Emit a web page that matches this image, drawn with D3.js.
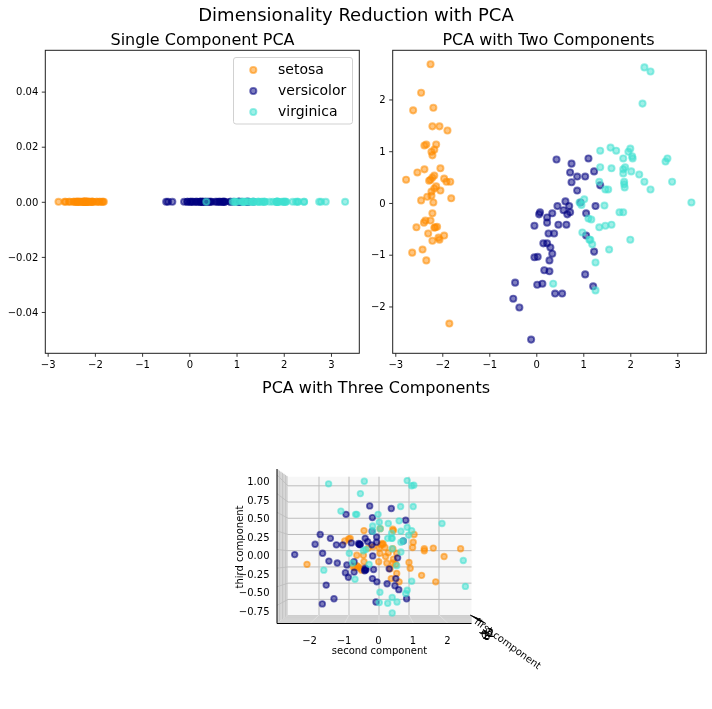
<!DOCTYPE html>
<html><head><meta charset="utf-8">
<script src="https://cdn.jsdelivr.net/npm/d3@7"></script>
<style>html,body{margin:0;padding:0;background:#fff}svg{display:block;filter:blur(0.35px)}text{font-family:"DejaVu Sans",sans-serif;fill:#000}</style>
</head><body><div id="chart"></div>
<script>
// ---------- data ----------
const classNames = ["setosa","versicolor","virginica"];
const classColors = ["darkorange","navy","turquoise"];

const setosaPC1 = [-2.25,-2.45,-2.62,-2.19,-2.21,-2.06,-1.89,-2.38,-2.34,-2.13,-2.17,-2.23,-2.21,-2.38,-2.53,-2.77,-2.04,-2.17,-2.21,-2.25,-2.28,-1.96,-1.91,-1.83,-2.13,-2.17,-2.23,-2.04,-2.23,-2.32,-2.45,-2.19,-1.81,-2.21,-2.25,-2.36,-2.39,-2.55,-2.15,-2.11,-2.17,-2.30,-1.96,-2.08,-2.06,-2.21,-2.42,-2.64,-2.34,-1.85];
const setosaPC2 = [2.68,2.13,1.79,1.84,1.48,1.48,1.40,1.11,1.13,1.13,1.03,0.99,0.92,0.65,0.59,0.45,0.67,0.53,0.49,0.45,0.43,0.47,0.41,0.41,0.32,0.28,0.22,0.24,0.14,0.12,0.05,0.01,0.09,-0.20,-0.34,-0.34,-0.38,-0.47,-0.47,-0.46,-0.48,-0.59,-0.63,-0.67,-0.71,-0.73,-0.90,-0.96,-1.11,-2.33];
const versicolorPC1 = [0.08,0.06,-0.04,-0.04,0.03,-0.45,0.02,-0.49,-0.36,-0.11,0.43,0.75,1.11,0.72,0.87,1.04,1.23,0.75,1.36,0.87,0.94,0.62,0.45,0.70,0.58,0.72,0.66,0.34,0.23,0.23,1.06,1.26,0.47,0.64,0.26,0.38,1.06,0.15,0.23,0.30,0.34,1.23,0.28,0.17,0.28,1.04,0.13,1.21,0.40,0.55];
const versicolorPC2 = [-0.18,-0.22,-0.44,-1.05,-1.04,-1.54,-1.58,-1.85,-2.02,-2.64,0.84,0.76,0.86,0.59,0.51,0.51,0.61,0.40,0.34,0.24,0.01,0.03,-0.06,-0.06,-0.14,-0.18,-0.22,-0.20,-0.28,-0.38,-0.20,-0.06,-0.42,-0.42,-0.59,-0.59,-0.63,-0.78,-0.78,-0.86,-0.98,-0.94,-1.11,-1.30,-1.32,-1.38,-1.56,-1.61,-1.75,-1.75];
const virginicaPC1 = [2.30,2.43,2.26,1.36,1.58,1.70,1.96,2.00,1.85,2.04,2.05,2.79,2.75,1.36,1.60,1.89,1.85,1.85,2.02,2.19,2.30,2.89,1.34,1.87,1.87,1.88,1.47,1.53,2.43,3.30,1.02,0.92,0.96,1.45,1.77,1.85,1.11,1.17,1.34,1.47,1.60,0.98,1.13,1.15,1.19,2.00,1.55,1.26,0.36,1.26];
const virginicaPC2 = [2.62,2.54,1.92,1.01,1.07,1.01,0.99,1.05,0.86,0.90,0.86,0.86,0.80,0.69,0.67,0.69,0.65,0.57,0.61,0.55,0.41,0.41,0.41,0.41,0.36,0.30,0.26,0.26,0.26,0.01,0.07,0.01,-0.04,-0.05,-0.18,-0.18,-0.30,-0.32,-0.47,-0.44,-0.42,-0.57,-0.71,-0.71,-0.80,-0.71,-0.90,-1.15,-1.56,-1.69];

// 3D panel: positions read against the back wall grid
const setosa3dSecond = [-0.50,0.04,0.46,0.48,1.17,-0.96,-1.01,-1.14,1.14,1.12,0.11,0.07,0.14,0.20,0.01,1.81,1.51,1.51,2.72,0.46,2.17,0.22,-0.52,-0.74,0.48,-0.50,-0.01,0.26,0.46,1.00,-2.40,-0.74,-0.69,-0.63,0.56,1.04,0.37,1.42,0.41,1.89,0.67,0.31,0.59,-0.19,-0.36,-0.80,-0.58,0.59,-0.86,0.03];
const setosa3dThird = [0.31,0.34,0.33,0.31,0.25,0.19,0.18,0.15,0.13,0.05,0.11,0.09,0.10,0.05,0.04,0.04,0.03,0.00,0.03,0.03,-0.09,-0.09,-0.07,-0.07,-0.13,-0.17,-0.17,-0.19,-0.19,-0.18,-0.21,-0.23,-0.25,-0.27,-0.21,-0.27,-0.28,-0.38,-0.43,-0.48,-0.48,-0.03,-0.04,0.06,0.04,-0.26,-0.30,-0.35,-0.25,-0.04];
const versicolor3dSecond = [-0.31,0.41,-1.10,-0.22,0.89,-0.23,-1.96,-1.62,-0.46,-0.08,0.81,-2.13,-1.42,-1.21,-0.92,-0.66,-0.63,-0.68,-0.63,-0.38,-0.08,-0.24,-1.88,-2.81,-0.21,0.62,-1.67,-1.39,-1.07,-0.83,-0.46,-0.46,-0.43,-0.48,-0.18,0.34,-1.12,-1.02,-0.83,-0.22,-0.07,0.27,0.56,0.53,0.66,-1.76,-1.50,-1.89,0.92,-0.10];
const versicolor3dThird = [0.69,0.65,0.56,0.51,0.47,0.30,0.25,0.19,0.19,0.21,0.15,0.10,0.09,0.09,0.12,0.10,0.09,0.11,0.10,0.14,0.13,0.09,-0.04,-0.06,-0.08,-0.11,-0.16,-0.19,-0.22,-0.17,-0.30,-0.27,-0.29,-0.31,-0.29,-0.28,-0.34,-0.41,-0.33,-0.43,-0.48,-0.51,-0.43,-0.54,-0.60,-0.53,-0.74,-0.82,-0.74,-0.79];
const virginica3dSecond = [-1.68,-0.49,0.94,1.09,1.16,-0.62,0.72,1.14,-1.27,-0.78,-0.74,-0.03,0.67,2.10,0.01,0.31,-0.21,0.94,1.09,0.04,0.73,-0.21,0.42,0.99,0.42,0.29,0.44,0.73,0.81,-0.44,-0.52,0.44,0.73,-0.99,2.81,-0.88,-0.33,0.59,-1.84,-0.80,1.09,2.88,0.94,0.89,0.03,0.44,0.01,0.29,0.60,0.44];
const virginica3dThird = [1.03,1.07,1.08,1.00,1.01,0.88,0.68,0.68,0.61,0.56,0.56,0.56,0.46,0.42,0.44,0.42,0.38,0.36,0.31,0.34,0.30,0.30,0.27,0.24,0.19,0.19,0.19,0.13,0.15,0.02,0.00,0.03,-0.02,-0.04,-0.15,-0.19,-0.21,-0.23,-0.30,-0.44,-0.47,-0.55,-0.61,-0.66,-0.64,-0.72,-0.80,-0.81,-0.79,-0.96];

const ticksX = [-3,-2,-1,0,1,2,3];
const ticksY1 = [-0.04,-0.02,0,0.02,0.04];
const ticksY2 = [-2,-1,0,1,2];
const ticks3dSecond = [-2,-1,0,1,2];
const ticks3dThird = [-0.75,-0.5,-0.25,0,0.25,0.5,0.75,1];
const ticks3dFirst = [-3,-2,-1,0,1,2,3];

const pc1 = [setosaPC1,versicolorPC1,virginicaPC1];
const pc2 = [setosaPC2,versicolorPC2,virginicaPC2];
const second3d = [setosa3dSecond,versicolor3dSecond,virginica3dSecond];
const third3d = [setosa3dThird,versicolor3dThird,virginica3dThird];

// ---------- layout ----------
const svg = d3.select("#chart").append("svg").attr("width",712).attr("height",709);
const fmtMinus = s => String(s).replace("-","\u2212");
const AX = "#1f1f1f";
const FILL_A = 0.5, STROKE_A = 0.56;

svg.append("text").attr("x",356).attr("y",21).attr("text-anchor","middle").attr("font-size",18).text("Dimensionality Reduction with PCA");
svg.append("text").attr("x",202.5).attr("y",45).attr("text-anchor","middle").attr("font-size",16).text("Single Component PCA");
svg.append("text").attr("x",548.5).attr("y",45).attr("text-anchor","middle").attr("font-size",16).text("PCA with Two Components");
svg.append("text").attr("x",376).attr("y",393).attr("text-anchor","middle").attr("font-size",16).text("PCA with Three Components");

function dots(g,xs,ys,sx,sy,color,r,sw){
  g.append("g").selectAll("circle").data(xs.map((x,i)=>[x,ys[i]])).join("circle")
    .attr("cx",d=>sx(d[0])).attr("cy",d=>sy(d[1])).attr("r",r)
    .attr("fill",color).attr("fill-opacity",FILL_A)
    .attr("stroke",color).attr("stroke-opacity",STROKE_A).attr("stroke-width",sw);
}
function panel(left,right,top,bottom,xDom,yDom,yTicks,yFmt){
  const x = d3.scaleLinear().domain(xDom).range([left,right]);
  const y = d3.scaleLinear().domain(yDom).range([bottom,top]);
  const g = svg.append("g");
  const ax = g.append("g").attr("transform",`translate(0,${bottom})`)
    .call(d3.axisBottom(x).tickValues(ticksX).tickSize(3.5).tickPadding(4.5).tickFormat(d=>fmtMinus(d)));
  const ay = g.append("g").attr("transform",`translate(${left},0)`)
    .call(d3.axisLeft(y).tickValues(yTicks).tickSize(3.5).tickPadding(3.5).tickFormat(d=>fmtMinus(yFmt(d))));
  [ax,ay].forEach(a=>{a.select(".domain").remove();a.selectAll("text").attr("font-size",10).attr("font-family","DejaVu Sans");a.selectAll("line").attr("stroke",AX).attr("stroke-width",0.9);});
  return {g,x,y,left,right,top,bottom};
}
function frame(p){
  p.g.append("rect").attr("x",p.left).attr("y",p.top).attr("width",p.right-p.left).attr("height",p.bottom-p.top)
    .attr("fill","none").attr("stroke",AX).attr("stroke-width",1);
}

// single component
const p1 = panel(45.3,359.3,50.3,353.3,[-3.05,3.6],[-0.055,0.055],ticksY1,d3.format(".2f"));
classNames.forEach((n,i)=>dots(p1.g,pc1[i],pc1[i].map(()=>0),p1.x,p1.y,classColors[i],3.1,1.9));
frame(p1);

// legend
const lg = p1.g.append("g");
lg.append("rect").attr("x",233.5).attr("y",57.5).attr("width",119).attr("height",66.5).attr("rx",2.5)
  .attr("fill","#fff").attr("fill-opacity",0.8).attr("stroke","#ccc").attr("stroke-width",0.9);
const legendY = d3.scalePoint().domain(classNames).range([70,112]);
classNames.forEach((n,i)=>{
  lg.append("circle").attr("cx",253.3).attr("cy",legendY(n)).attr("r",3.1).attr("fill",classColors[i]).attr("fill-opacity",FILL_A)
    .attr("stroke",classColors[i]).attr("stroke-opacity",STROKE_A).attr("stroke-width",1.9);
  lg.append("text").attr("x",278).attr("y",legendY(n)+4).attr("font-size",14).text(n);
});

// two components
const p2 = panel(392.7,706.3,50.3,353.3,[-3.055,3.617],[-2.905,2.95],ticksY2,d=>d);
classNames.forEach((n,i)=>dots(p2.g,pc1[i],pc2[i],p2.x,p2.y,classColors[i],3.1,1.9));
frame(p2);

// three components: an elevated-zero view along the first component
const g3 = svg.append("g");
const backLeft = 288, backRight = 471.5, backTop = 476.7, backBottom = 615;
const frontLeft = 277, frontBottom = 623.5, frontTop = 469;
const backX = d3.scaleLinear().domain([0,1]).range([379,409]);
const frontX = d3.scaleLinear().domain([0,1]).range([379,413.5]);
const backZ = d3.scaleLinear().domain([0,1]).range([550.7,485.8]);
const frontZ = d3.scaleLinear().domain([0,1]).range([549.5,475]);
const labelZ = d3.scaleLinear().domain([0,1]).range([559.2,485.3]);
const paneFill = "#f7f7f7", sideFill = "#ececec", floorFill = "#c6c6c6", gridC = "#bdbdbd";
g3.append("rect").attr("x",backLeft).attr("y",backTop).attr("width",backRight-backLeft).attr("height",backBottom-backTop).attr("fill",paneFill);
g3.append("polygon").attr("points",[[frontLeft,frontTop],[backLeft,backTop],[backLeft,backBottom],[frontLeft,frontBottom]].join(" ")).attr("fill",sideFill);
g3.append("polygon").attr("points",[[frontLeft,frontBottom],[backLeft,backBottom],[backRight,backBottom],[backRight,frontBottom]].join(" ")).attr("fill",floorFill);
// depth lines on left wall and floor
const depth = d3.scaleLinear().domain([-3.05,3.6]).range([0.08,0.98]);
ticks3dFirst.forEach(t=>{
  const f = depth(t);
  const xw = frontLeft + (backLeft-frontLeft)*f;
  g3.append("line").attr("x1",xw).attr("x2",xw).attr("y1",frontTop+(backTop-frontTop)*f).attr("y2",frontBottom+(backBottom-frontBottom)*f).attr("stroke",gridC).attr("stroke-width",0.9);
  const yw = frontBottom+(backBottom-frontBottom)*f;
  g3.append("line").attr("x1",xw).attr("x2",backRight).attr("y1",yw).attr("y2",yw).attr("stroke","#dcdcdc").attr("stroke-width",0.7);
});
ticks3dSecond.forEach(t=>{
  g3.append("line").attr("x1",backX(t)).attr("x2",backX(t)).attr("y1",backTop).attr("y2",backBottom).attr("stroke",gridC).attr("stroke-width",1);
  g3.append("line").attr("x1",backX(t)).attr("x2",frontX(t)).attr("y1",backBottom).attr("y2",frontBottom).attr("stroke","#e2e2e2").attr("stroke-width",0.8);
  g3.append("text").attr("x",frontX(t)-0.5).attr("y",644).attr("text-anchor","middle").attr("font-size",10).text(fmtMinus(t));
});
ticks3dThird.forEach(t=>{
  g3.append("line").attr("x1",backLeft).attr("x2",backRight).attr("y1",backZ(t)).attr("y2",backZ(t)).attr("stroke",gridC).attr("stroke-width",1);
  g3.append("line").attr("x1",frontLeft).attr("x2",backLeft).attr("y1",frontZ(t)).attr("y2",backZ(t)).attr("stroke",gridC).attr("stroke-width",0.9);
  g3.append("text").attr("x",269.5).attr("y",labelZ(t)).attr("text-anchor","end").attr("font-size",10).text(fmtMinus(d3.format(".2f")(t)));
});
// axis edges
g3.append("line").attr("x1",frontLeft).attr("x2",frontLeft).attr("y1",frontTop).attr("y2",frontBottom).attr("stroke","#000").attr("stroke-width",1);
g3.append("line").attr("x1",frontLeft).attr("x2",backRight).attr("y1",frontBottom).attr("y2",frontBottom).attr("stroke","#000").attr("stroke-width",1);
classNames.forEach((n,i)=>dots(g3,second3d[i],third3d[i],backX,backZ,classColors[i],2.8,1.8));
// tangled first-component ticks and labels
const tickX = d3.scaleLinear().domain([-3,3]).range([470,478]);
const tickY = d3.scaleLinear().domain([-3,3]).range([615,620]);
const labelX = d3.scaleLinear().domain([-3,3]).range([478,484]);
const labelY = d3.scaleLinear().domain([-3,3]).range([636,640]);
ticks3dFirst.forEach(t=>{
  g3.append("line").attr("x1",tickX(t)).attr("y1",tickY(t)).attr("x2",tickX(t)+8).attr("y2",tickY(t)+3.5).attr("stroke","#000").attr("stroke-width",0.9);
  g3.append("text").attr("x",labelX(t)).attr("y",labelY(t)).attr("font-size",10).text(fmtMinus(t));
});
g3.append("text").attr("x",379.5).attr("y",654).attr("text-anchor","middle").attr("font-size",10).text("second component");
g3.append("text").attr("transform","translate(239.5,547) rotate(-90)").attr("dy","3").attr("text-anchor","middle").attr("font-size",10).text("third component");
g3.append("text").attr("transform","translate(508,643.5) rotate(36)").attr("dy","3.5").attr("text-anchor","middle").attr("font-size",10).text("first component");
</script></body></html>
